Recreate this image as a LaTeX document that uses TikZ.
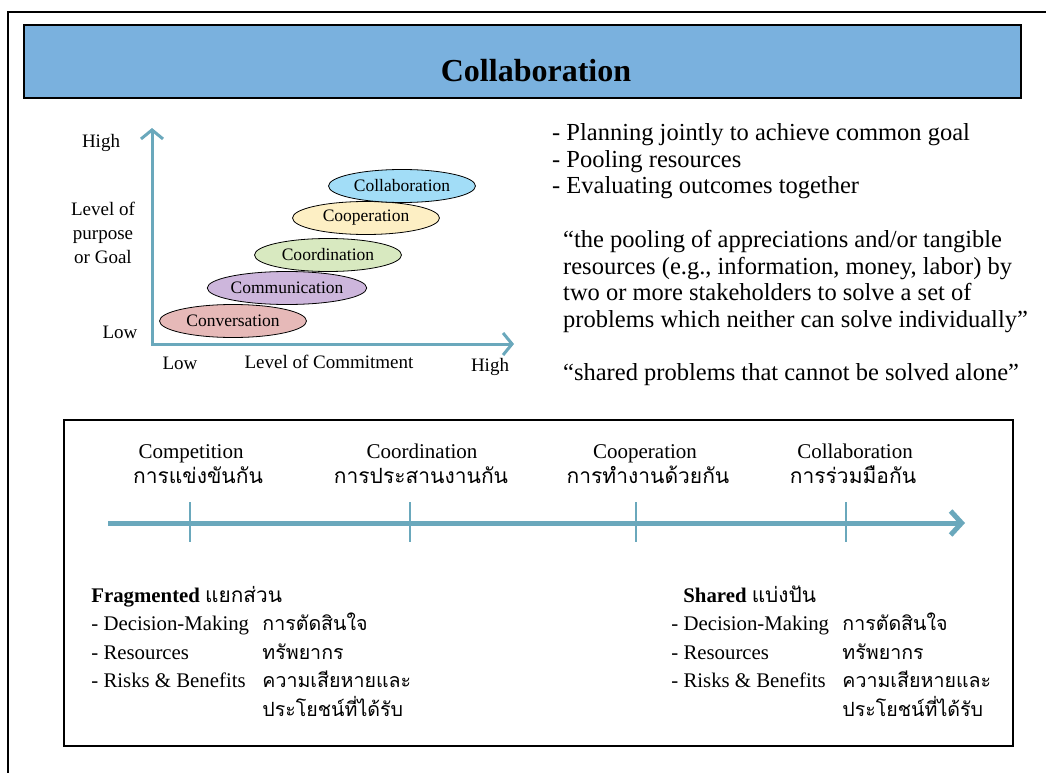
\documentclass[tikz,border=0pt]{standalone}
\usepackage{fontspec}
\setmainfont{Liberation Serif}
\newfontfamily\thaifont[Script=Thai]{Loma}
\usetikzlibrary{shapes.geometric,arrows.meta,matrix}

\definecolor{headerblue}{HTML}{7AB1DE}
\definecolor{axisteal}{HTML}{6AA8BC}
\definecolor{convpink}{HTML}{E6B9B8}
\definecolor{commpurple}{HTML}{CDB6DC}
\definecolor{coordgreen}{HTML}{D8E9C0}
\definecolor{coopyellow}{HTML}{FDEFC4}
\definecolor{collabblue}{HTML}{A2DDF7}

\begin{document}
\begin{tikzpicture}[x=1pt,y=-1pt,
axis/.style={draw=axisteal, line width=3pt, {Straight Barb[length=9pt,width=22pt]}-{Straight Barb[length=9pt,width=22pt]}},
timeline/.style={draw=axisteal, line width=5pt, -{Straight Barb[length=11pt,width=24pt]}},
tickline/.style={draw=axisteal, line width=2.5pt},
level/.style={ellipse, draw, line width=0.8pt, minimum width=147pt, minimum height=33pt, inner sep=0pt, font=\fontsize{17.5}{20}\selectfont},
axislabel/.style={font=\fontsize{19}{24}\selectfont, anchor=base, inner sep=0pt},
bodytext/.style={font=\fontsize{24.5}{26.6}\selectfont, anchor=base west, inner sep=0pt},
stage/.style={font=\fontsize{21}{24}\selectfont, anchor=base, inner sep=0pt},
stagethai/.style={font=\thaifont\fontsize{21}{24}\selectfont, anchor=base, inner sep=0pt},
list/.style={matrix of nodes, anchor=north west, inner sep=0pt,
  column sep={171pt,between origins}, row sep={28.5pt,between origins},
  nodes={anchor=base west, inner sep=0pt, text height=15pt, text depth=5pt, font=\fontsize{20.8}{24}\selectfont},
  column 2/.style={nodes={font=\thaifont\fontsize{19.6}{24}\selectfont}}}]

\useasboundingbox (0,0) rectangle (1046,773);
% slide frame
\draw[line width=2pt] (8,773) |- (1046,12);
\draw[line width=2pt, fill=headerblue] (24,25) rectangle (1021,98);
\node[font=\bfseries\fontsize{32}{36}\selectfont, anchor=base, inner sep=0pt] (title) at (536,82) {Collaboration};

% levels chart
\coordinate (origin) at (152,344);
\coordinate (ytop) at (152,128);
\coordinate (xend) at (514,344);
\draw[axis] (ytop) -- (origin) -- (xend);
\foreach \name/\txt/\cx/\cy/\col in {conv/Conversation/233/321/convpink, comm/Communication/287/288/commpurple, coord/Coordination/328/255/coordgreen, coop/Cooperation/366/218/coopyellow, collab/Collaboration/402/186/collabblue}
  \node[level, fill=\col] (\name) at (\cx,\cy) {\txt};
\node[axislabel] (yhigh) at (101,147) {High};
\node[axislabel, align=center] (ylevel) at (103,263) {Level of\\purpose\\or Goal};
\node[axislabel] (ylow) at (120,338) {Low};
\node[axislabel] (xlow) at (180,369) {Low};
\node[axislabel] (xlevel) at (329,368) {Level of Commitment};
\node[axislabel] (xhigh) at (490,371) {High};

% description
\node[bodytext] (b1) at (552,140) {- Planning jointly to achieve common goal};
\node[bodytext] (b2) at (552,167) {- Pooling resources};
\node[bodytext] (b3) at (552,193) {- Evaluating outcomes together};
\node[bodytext] (q1) at (563,247) {``the pooling of appreciations and/or tangible};
\node[bodytext] (q2) at (563,274) {resources (e.g., information, money, labor) by};
\node[bodytext] (q3) at (563,300) {two or more stakeholders to solve a set of};
\node[bodytext] (q4) at (563,327) {problems which neither can solve individually''};
\node[bodytext] (q5) at (563,380) {``shared problems that cannot be solved alone''};

% continuum
\draw[line width=2pt] (64,420) rectangle (1013,746);
\coordinate (tstart) at (108,523);
\coordinate (tend) at (965,523);
\draw[timeline] (tstart) -- (tend);
\foreach \x/\n in {190/1,410/2,636/3,846/4}{
  \coordinate (tick\n) at (\x,523);
  \draw[tickline] ([yshift=21pt]tick\n) -- ([yshift=-19pt]tick\n);
}
\node[stage] (s1) at (191,458) {Competition};
\node[stagethai] (t1) at (198,483) {การแข่งขันกัน};
\node[stage] (s2) at (422,458) {Coordination};
\node[stagethai] (t2) at (421,483) {การประสานงานกัน};
\node[stage] (s3) at (645,458) {Cooperation};
\node[stagethai] (t3) at (648,483) {การทำงานด้วยกัน};
\node[stage] (s4) at (855,458) {Collaboration};
\node[stagethai] (t4) at (853,483) {การร่วมมือกัน};

\matrix[list] (frag) at (91,587) {
\textbf{Fragmented} {\thaifont แยกส่วน} & \\
- Decision-Making & การตัดสินใจ \\
- Resources & ทรัพยากร \\
- Risks \& Benefits & ความเสียหายและ \\
 & ประโยชน์ที่ได้รับ \\
};
\matrix[list] (shared) at (671,587) {
\hspace{12pt}\textbf{Shared} {\thaifont แบ่งปัน} & \\
- Decision-Making & การตัดสินใจ \\
- Resources & ทรัพยากร \\
- Risks \& Benefits & ความเสียหายและ \\
 & ประโยชน์ที่ได้รับ \\
};
\end{tikzpicture}
\end{document}
